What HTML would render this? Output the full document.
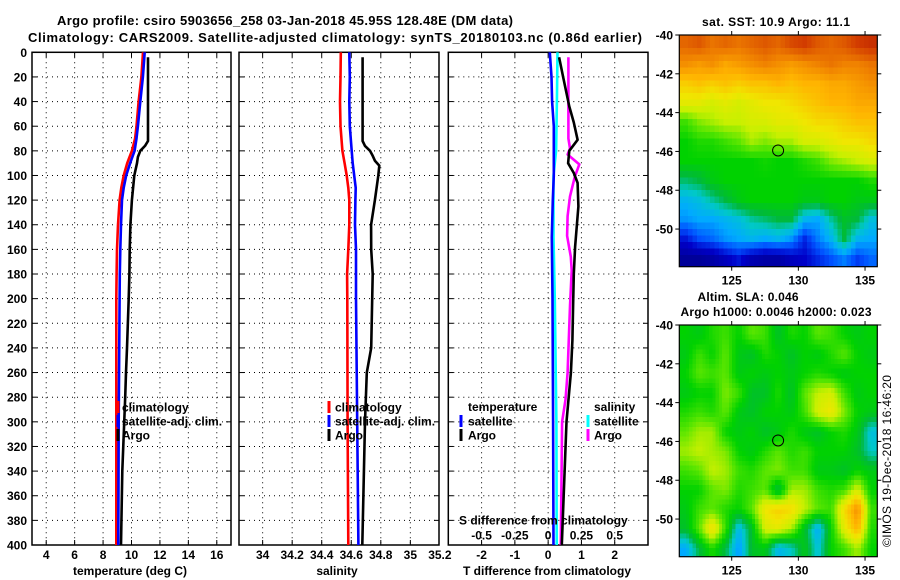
<!DOCTYPE html>
<html><head><meta charset="utf-8"><style>
html,body{margin:0;padding:0;background:#fff;}
svg{display:block;font-family:"Liberation Sans",sans-serif;font-weight:bold;}
</style></head><body>
<svg id="fig" width="900" height="580" viewBox="0 0 900 580" xmlns="http://www.w3.org/2000/svg">
<rect width="900" height="580" fill="#fff"/>
<text x="285" y="25" text-anchor="middle" font-size="13" textLength="456">Argo profile: csiro 5903656_258 03-Jan-2018 45.95S 128.48E (DM data)</text>
<text x="335" y="42" text-anchor="middle" font-size="13" textLength="614">Climatology: CARS2009. Satellite-adjusted climatology: synTS_20180103.nc (0.86d earlier)</text>
<text x="776" y="26" text-anchor="middle" font-size="12" textLength="148">sat. SST: 10.9 Argo: 11.1</text>
<text x="748" y="301" text-anchor="middle" font-size="12" textLength="101">Altim. SLA: 0.046</text>
<text x="776" y="316" text-anchor="middle" font-size="12" textLength="191">Argo h1000: 0.0046 h2000: 0.023</text>
<text transform="translate(891,461) rotate(-90)" text-anchor="middle" font-size="12" font-weight="normal" textLength="172">©IMOS 19-Dec-2018 16:46:20</text>
<g id="g"></g>
</svg>
<script>
// ---- data ----
const depthTicks=[0,20,40,60,80,100,120,140,160,180,200,220,240,260,280,300,320,340,360,380,400];
const tempTicks=[4,6,8,10,12,14,16];
const salTicks=[34,34.2,34.4,34.6,34.8,35,35.2];
const tdiffTicks=[-2,-1,0,1,2];
const sdiffTicks=[-0.5,-0.25,0,0.25,0.5];
const latTicks=[-40,-42,-44,-46,-48,-50];
const lonTicks=[125,130,135];

const tClimDepth=[0,20,40,60,70,80,90,100,110,120,140,160,180,200,300,400];
const tClim=[10.81,10.7,10.5,10.35,10.25,10.03,9.7,9.45,9.28,9.16,9.05,8.98,8.95,8.93,8.93,8.93];
const tSatDepth=[0,20,40,60,70,80,90,100,110,120,140,160,180,200,300,400];
const tSat=[10.93,10.8,10.62,10.45,10.35,10.22,9.9,9.63,9.45,9.33,9.26,9.21,9.18,9.16,9.1,9.07];
const tArgoDepth=[4,20,40,60,72,76,80,85,90,100,120,140,160,180,200,240,260,280,340,400];
const tArgo=[11.16,11.16,11.16,11.16,11.16,10.95,10.62,10.45,10.39,10.2,10.03,9.92,9.87,9.85,9.8,9.68,9.61,9.56,9.35,9.26];

const sClimDepth=[0,20,40,60,80,90,100,110,120,140,160,180,200,300,400];
const sClim=[34.529,34.527,34.524,34.527,34.54,34.555,34.569,34.58,34.587,34.587,34.58,34.572,34.573,34.575,34.58];
const sSatDepth=[0,20,40,60,80,90,100,110,120,140,160,200,300,400];
const sSat=[34.587,34.59,34.587,34.59,34.603,34.61,34.62,34.63,34.628,34.625,34.632,34.632,34.64,34.648];
const sArgoDepth=[4,20,40,60,72,76,80,84,88,92,100,120,140,160,180,200,240,260,300,400];
const sArgo=[34.677,34.677,34.677,34.677,34.677,34.693,34.727,34.745,34.76,34.79,34.783,34.76,34.734,34.735,34.745,34.742,34.735,34.705,34.693,34.675];

const dTSatDepth=[0,20,40,60,80,100,120,150,200,300,400];
const dTSat=[0.05,0.1,0.12,0.17,0.17,0.17,0.14,0.11,0.13,0.15,0.16];
const dTArgoDepth=[4,20,44,57,71,80,90,98,106,125,158,180,206,234,260,300,400];
const dTArgo=[0.33,0.45,0.635,0.77,0.885,0.635,0.6,0.77,0.885,0.91,0.81,0.77,0.75,0.73,0.685,0.55,0.41];
const dSSatDepth=[0,40,80,100,150,200,300,400];
const dSSat=[0.07,0.066,0.06,0.04,0.04,0.05,0.062,0.064];
const dSArgoDepth=[4,40,70,78,83,91,101,117,133,149,166,177,206,260,282,300,400];
const dSArgo=[0.152,0.152,0.152,0.164,0.146,0.234,0.2,0.164,0.146,0.142,0.17,0.177,0.164,0.146,0.13,0.105,0.095];

const sstGrid=[
[0.84,0.86,0.82,0.84,0.82,0.84,0.86,0.84,0.88,0.9,0.86,0.84,0.86,0.9,0.92],
[0.78,0.76,0.78,0.74,0.76,0.78,0.8,0.78,0.76,0.78,0.8,0.82,0.8,0.8,0.82],
[0.68,0.7,0.68,0.7,0.68,0.7,0.7,0.72,0.7,0.72,0.72,0.74,0.74,0.76,0.78],
[0.62,0.62,0.6,0.62,0.6,0.62,0.64,0.64,0.66,0.68,0.7,0.72,0.72,0.74,0.74],
[0.5,0.54,0.56,0.58,0.58,0.6,0.6,0.62,0.62,0.64,0.66,0.66,0.68,0.7,0.7],
[0.46,0.48,0.48,0.5,0.52,0.56,0.54,0.56,0.56,0.6,0.6,0.62,0.64,0.64,0.66],
[0.46,0.46,0.46,0.46,0.46,0.46,0.47,0.46,0.46,0.48,0.5,0.54,0.56,0.58,0.6],
[0.38,0.4,0.44,0.46,0.46,0.46,0.46,0.46,0.46,0.46,0.46,0.46,0.46,0.46,0.48],
[0.3,0.32,0.36,0.4,0.44,0.46,0.46,0.46,0.46,0.44,0.44,0.46,0.46,0.44,0.44],
[0.26,0.28,0.28,0.3,0.32,0.36,0.38,0.4,0.4,0.3,0.28,0.36,0.42,0.4,0.32],
[0.14,0.2,0.22,0.26,0.28,0.3,0.28,0.3,0.26,0.16,0.24,0.3,0.4,0.3,0.28],
[0.04,0.04,0.06,0.1,0.14,0.08,0.06,0.06,0.1,0.12,0.16,0.2,0.24,0.18,0.22]];
const slaGrid=[
[0.46,0.44,0.48,0.5,0.46,0.52,0.5,0.42,0.48,0.46,0.52,0.5,0.46,0.44,0.46],
[0.44,0.5,0.46,0.52,0.44,0.42,0.48,0.46,0.42,0.46,0.44,0.48,0.52,0.46,0.44],
[0.46,0.52,0.5,0.52,0.44,0.46,0.44,0.46,0.44,0.46,0.48,0.46,0.44,0.46,0.46],
[0.44,0.46,0.46,0.54,0.5,0.42,0.42,0.48,0.42,0.52,0.58,0.6,0.5,0.44,0.46],
[0.48,0.5,0.48,0.52,0.44,0.42,0.46,0.46,0.44,0.5,0.6,0.64,0.54,0.46,0.44],
[0.52,0.56,0.56,0.46,0.44,0.46,0.42,0.44,0.48,0.44,0.42,0.46,0.48,0.44,0.32],
[0.56,0.58,0.56,0.54,0.46,0.44,0.48,0.52,0.48,0.5,0.46,0.46,0.46,0.42,0.34],
[0.5,0.52,0.58,0.56,0.5,0.48,0.52,0.54,0.5,0.5,0.44,0.44,0.42,0.46,0.44],
[0.46,0.46,0.52,0.54,0.48,0.5,0.52,0.4,0.56,0.56,0.5,0.48,0.5,0.6,0.46],
[0.44,0.5,0.52,0.48,0.46,0.52,0.64,0.68,0.66,0.58,0.52,0.5,0.66,0.78,0.5],
[0.42,0.52,0.66,0.5,0.3,0.42,0.6,0.62,0.56,0.42,0.28,0.46,0.62,0.72,0.48],
[0.28,0.4,0.48,0.4,0.26,0.42,0.44,0.3,0.34,0.44,0.32,0.46,0.5,0.56,0.46]];
const argoLon=[128.48];
const argoLat=[-45.95];

// ---- helpers ----
const NS='http://www.w3.org/2000/svg';
const G=document.getElementById('g');
function mk(tag,attrs,parent){const e=document.createElementNS(NS,tag);for(const k in attrs)e.setAttribute(k,attrs[k]);(parent||G).appendChild(e);return e;}
function txt(x,y,s,anchor,size,parent){const t=mk('text',{x:x,y:y,'text-anchor':anchor||'middle','font-size':size||12},parent);t.textContent=s;return t;}
const Y0=52.3,Y1=545;
const yD=d=>Y0+(d/400)*(Y1-Y0);
function lin(d0,d1,p0,p1){return v=>p0+(v-d0)/(d1-d0)*(p1-p0);}

function panel(name,x0,x1,xmin,xmax,xticks,showYLabels,showXLabels){
  const xs=lin(xmin,xmax,x0,x1);
  const g=mk('g',{});
  
  
  xticks.forEach(v=>{const x=xs(v);if(x>x0+1&&x<x1-1){
    const l=mk('line',{x1:x,y1:Y0,x2:x,y2:Y1,stroke:'#000','stroke-width':1,'stroke-dasharray':'1,4'},g);
    
    
    mk('line',{x1:x,y1:Y1,x2:x,y2:Y1-5,stroke:'#000'},g);mk('line',{x1:x,y1:Y0,x2:x,y2:Y0+5,stroke:'#000'},g);}
    if(showXLabels){const t=txt(x,559,String(v),'middle',12,g);
      
      }
  });
  depthTicks.forEach(d=>{const y=yD(d);
    if(d>0&&d<400){const l=mk('line',{x1:x0,y1:y,x2:x1,y2:y,stroke:'#000','stroke-width':1,'stroke-dasharray':'1,4'},g);
      
      }
    mk('line',{x1:x0,y1:y,x2:x0+5,y2:y,stroke:'#000'},g);mk('line',{x1:x1,y1:y,x2:x1-5,y2:y,stroke:'#000'},g);
    if(showYLabels){const t=txt(27,y+4.5,String(d),'end',12,g);
      
      }
  });
  const f=mk('rect',{x:x0,y:Y0,width:x1-x0,height:Y1-Y0,fill:'none',stroke:'#000','stroke-width':1.5},g);
  
  
  return {xs:xs,g:g};
}
function series(p,depths,vals,color,name){
  const pts=depths.map((d,i)=>p.xs(vals[i]).toFixed(1)+','+yD(d).toFixed(1)).join(' ');
  const l=mk('polyline',{points:pts,fill:'none',stroke:color,'stroke-width':2.6,'stroke-linejoin':'round'},p.g);
  
  
}
function legendEntry(g,bx,tx,y,color,label,name){
  const r=mk('rect',{x:bx-1.5,y:y-6,width:3,height:12,fill:color},g);
  
  
  const t=txt(tx,y+4.5,label,'start',12,g);
  
  
}

// temperature panel
const pT=panel('temperature-panel',32,231,3,17,tempTicks,true,true);
series(pT,tClimDepth,tClim,'#ff0000','temp-climatology-line');
series(pT,tSatDepth,tSat,'#0000ff','temp-satellite-line');
series(pT,tArgoDepth,tArgo,'#000','temp-argo-line');
legendEntry(pT.g,118,122,407,'#ff0000','climatology','legend-entry-climatology');
legendEntry(pT.g,118,122,421,'#0000ff','satellite-adj. clim.','legend-entry-satellite-adj');
legendEntry(pT.g,118,122,435,'#000','Argo','legend-entry-argo');
let t=txt(130,575,'temperature (deg C)','middle',12);



// salinity panel
const pS=panel('salinity-panel',239,439,33.84,35.194,salTicks,false,true);
series(pS,sClimDepth,sClim,'#ff0000','sal-climatology-line');
series(pS,sSatDepth,sSat,'#0000ff','sal-satellite-line');
series(pS,sArgoDepth,sArgo,'#000','sal-argo-line');
legendEntry(pS.g,329,335,407,'#ff0000','climatology','legend-entry-sal-climatology');
legendEntry(pS.g,329,335,421,'#0000ff','satellite-adj. clim.','legend-entry-sal-satellite-adj');
legendEntry(pS.g,329,335,435,'#000','Argo','legend-entry-sal-argo');
t=txt(337,575,'salinity','middle',12);



// difference panel
const pD=panel('difference-panel',448.3,648,-3,3,tdiffTicks,false,true);
const pDS={xs:lin(-0.75,0.75,448.3,648),g:pD.g};
series(pDS,dSSatDepth,dSSat,'#00ffff','sdiff-satellite-line');
series(pD,dTSatDepth,dTSat,'#0000ff','tdiff-satellite-line');
series(pDS,dSArgoDepth,dSArgo,'#ff00ff','sdiff-argo-line');
series(pD,dTArgoDepth,dTArgo,'#000','tdiff-argo-line');
t=txt(468,411,'temperature','start',12,pD.g);


legendEntry(pD.g,461,468,421,'#0000ff','satellite','legend-entry-tdiff-satellite');
legendEntry(pD.g,461,468,435,'#000','Argo','legend-entry-tdiff-argo');
t=txt(594,411,'salinity','start',12,pD.g);


legendEntry(pD.g,588,594,421,'#00ffff','satellite','legend-entry-sdiff-satellite');
legendEntry(pD.g,588,594,435,'#ff00ff','Argo','legend-entry-sdiff-argo');
t=txt(459,524.5,'S difference from climatology','start',12,pD.g);


sdiffTicks.forEach(v=>{const l=txt(pDS.xs(v),539.5,String(v),'middle',12,pD.g);
  
  });
t=txt(547,575,'T difference from climatology','middle',12);



// maps
const stops=[[0,[0,0,130]],[0.12,[0,0,200]],[0.2,[0,80,255]],[0.28,[0,170,255]],[0.34,[0,200,200]],[0.4,[0,185,60]],[0.46,[0,210,0]],[0.52,[90,230,0]],[0.58,[200,240,0]],[0.64,[240,230,0]],[0.72,[255,180,0]],[0.8,[240,130,0]],[0.9,[210,60,0]],[1,[160,0,0]]];
function cmap(v){v=Math.max(0,Math.min(1,v));for(let i=1;i<stops.length;i++){if(v<=stops[i][0]){const a=stops[i-1],b=stops[i],f=(v-a[0])/(b[0]-a[0]);return 'rgb('+a[1].map((c,k)=>Math.round(c+f*(b[1][k]-c))).join(',')+')';}}return 'rgb(160,0,0)';}
function sample(grid,r,c){ // bilinear display smoothing at fractional cell-centre coords
  const R=grid.length,C=grid[0].length;
  r=Math.max(0,Math.min(R-1,r));c=Math.max(0,Math.min(C-1,c));
  const r0=Math.floor(r),c0=Math.floor(c),r1=Math.min(R-1,r0+1),c1=Math.min(C-1,c0+1),fr=r-r0,fc=c-c0;
  return grid[r0][c0]*(1-fr)*(1-fc)+grid[r0][c1]*(1-fr)*fc+grid[r1][c0]*fr*(1-fc)+grid[r1][c1]*fr*fc;
}
function map(name,top,bottom,grid,sub){
  const x0=679.3,x1=877.3;
  const lonS=lin(121.07,135.92,x0,x1), latS=lin(-40,-51.94,top,bottom);
  const g=mk('g',{});
  
  
  const cp='clip-'+name;
  const cl=mk('clipPath',{id:cp},g);mk('rect',{x:x0,y:top,width:x1-x0,height:bottom-top},cl);
  const cells=mk('g',{'clip-path':'url(#'+cp+')','shape-rendering':'crispEdges'},g);
  const R=grid.length,C=grid[0].length;
  const cw=(x1-x0)/C, ch=latS(-41)-latS(-40);
  for(let i=0;i<R*sub;i++)for(let j=0;j<C*sub;j++){
    const rr=(i+0.5)/sub-0.5, cc=(j+0.5)/sub-0.5;
    const v=sample(grid,rr,cc);
    const c1=mk('rect',{x:x0+j*cw/sub,y:top+i*ch/sub,width:cw/sub+0.6,height:ch/sub+0.6,fill:cmap(v)},cells);
    
    
  }
  mk('rect',{x:x0,y:top,width:x1-x0,height:bottom-top,fill:'none',stroke:'#000','stroke-width':1.2},g);
  latTicks.forEach(v=>{const y=latS(v);mk('line',{x1:x0,y1:y,x2:x0-4,y2:y,stroke:'#000'},g);mk('line',{x1:x1,y1:y,x2:x1+4,y2:y,stroke:'#000'},g);
    const l=txt(673,y+4.5,String(v),'end',12,g);
    
    });
  lonTicks.forEach(v=>{const x=lonS(v);mk('line',{x1:x,y1:bottom,x2:x,y2:bottom+4,stroke:'#000'},g);mk('line',{x1:x,y1:top,x2:x,y2:top-4,stroke:'#000'},g);
    const l=txt(x,bottom+18,String(v),'middle',12,g);
    
    });
  const m=mk('circle',{cx:lonS(argoLon[0]),cy:latS(argoLat[0]),r:5.5,fill:'none',stroke:'#000','stroke-width':1},g);
  
  
}
map('sst-map',35,266.7,sstGrid,3);
map('sla-map',325,556.7,slaGrid,4);
</script>
</body></html>
